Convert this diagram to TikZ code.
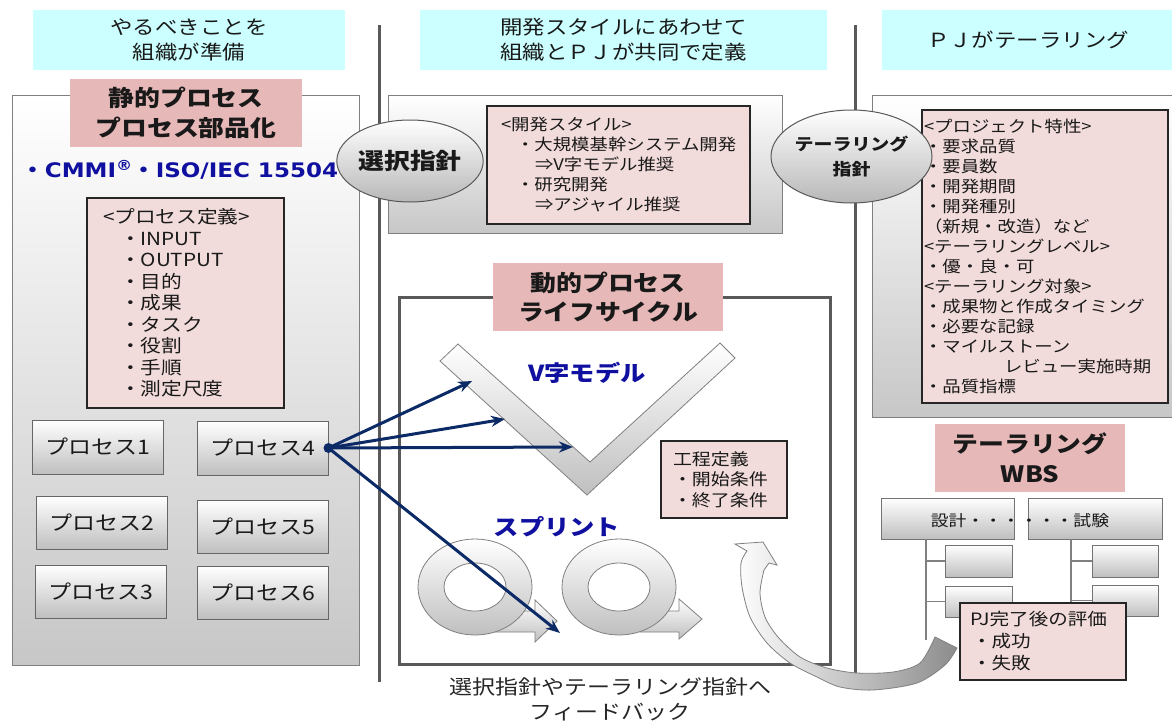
\documentclass[tikz,border=0pt]{standalone}
\usepackage{fontspec}
\setmainfont{Noto Sans CJK JP}[FakeStretch=1.15]
\newfontfamily\latinb{DejaVu Sans}[FakeStretch=1.15]
\usetikzlibrary{shapes.geometric,arrows.meta}
\definecolor{hcyan}{HTML}{CCFFFF}
\definecolor{tpink}{HTML}{E6B9B8}
\definecolor{lpink}{HTML}{F2DCDB}
\definecolor{navy}{HTML}{0C2A66}
\definecolor{tblue}{HTML}{1010A0}
\definecolor{sep}{HTML}{595959}
\newcommand\fs[2]{\fontsize{#1}{#2}\selectfont}
\newcommand\ind[1]{\hspace*{#1pt}}
\tikzset{
  wh/.style 2 args={minimum width=#1pt, minimum height=#2pt},
  hdr/.style={fill=hcyan, inner sep=0pt, align=center, font=\fs{19.5}{25}, text=black!90},
  panel/.style={draw=black!50, line width=1pt, top color=white, bottom color=black!22, inner sep=0pt},
  ttl/.style={fill=tpink, inner sep=0pt, align=center, font=\fs{22.5}{29.5}\bfseries, text=black!90},
  pnote/.style={draw=black!85, line width=1.3pt, fill=lpink, align=left, text=black!90, inner ysep=0pt},
  proc/.style={draw=black!60, line width=1pt, top color=white, bottom color=black!25, inner sep=0pt, font=\fs{20}{24}, text=black!90},
  wbs/.style={draw=black!55, line width=1pt, top color=white, bottom color=black!25, inner sep=0pt},
  oval/.style={ellipse, draw=black!65, line width=1pt, top color=white, bottom color=black!28, inner sep=0pt, align=center, text=black!90},
  sepline/.style={draw=sep, line width=3pt},
  link/.style={draw=navy, line width=3pt, -{Stealth[length=14pt,width=11pt]}},
  tree/.style={draw=black!50, line width=1.2pt},
  bluet/.style={text=tblue, font=\fs{22}{26}\bfseries, inner sep=0pt},
  deco/.style={draw=black!50, line width=0.8pt, top color=white, bottom color=black!25},
}
\begin{document}
\begin{tikzpicture}[x=1pt,y=-1pt]
\useasboundingbox (0,0) rectangle (1172,720);
% separators
\coordinate (s1a) at (379,25); \coordinate (s1b) at (379,682);
\coordinate (s2a) at (855,25); \coordinate (s2b) at (855,680);
\draw[sepline] (s1a) -- (s1b);
\draw[sepline] (s2a) -- (s2b);
% headers
\node[hdr, wh={312}{60}] (h1) at (189,40) {やるべきことを\\組織が準備};
\node[hdr, wh={407}{60}] (h2) at (623.5,40) {開発スタイルにあわせて\\組織とＰＪが共同で定義};
\node[hdr, wh={292}{60}] (h3) at (1028,40) {ＰＪがテーラリング};
% left panel
\node[panel, wh={347}{570}] (lp) at (185.5,380) {};
\node[ttl, wh={232}{68}] (lt) at (186,113) {静的プロセス\\プロセス部品化};
\node[text=tblue, inner sep=0pt, font=\fs{20}{24}\bfseries] (cmmi) at (180,170) {・{\latinb CMMI\textsuperscript{®}}・{\latinb ISO/IEC 15504}};
\node[pnote, wh={197}{210}, text width=165pt, inner xsep=16pt, font=\fs{18}{21.5}] (pd) at (185.5,303)
 {<プロセス定義>\\\ind{17}・INPUT\\\ind{17}・OUTPUT\\\ind{17}・目的\\\ind{17}・成果\\\ind{17}・タスク\\\ind{17}・役割\\\ind{17}・手順\\\ind{17}・測定尺度};
\node[proc, wh={131}{54}] (p1) at (97.5,447) {プロセス1};
\node[proc, wh={131}{54}] (p4) at (262.5,448) {プロセス4};
\node[proc, wh={131}{53}] (p2) at (101.5,522.5) {プロセス2};
\node[proc, wh={131}{53}] (p5) at (262.5,526.5) {プロセス5};
\node[proc, wh={131}{53}] (p3) at (100.5,591.5) {プロセス3};
\node[proc, wh={131}{53}] (p6) at (262.5,592.5) {プロセス6};
% middle top
\node[panel, wh={394}{138}] (mp) at (585,164) {};
\node[pnote, wh={263}{118}, text width=235pt, inner xsep=14pt, font=\fs{16}{20}] (ds) at (618.5,165)
 {<開発スタイル>\\\ind{15}・大規模基幹システム開発\\\ind{34}⇒V字モデル推奨\\\ind{15}・研究開発\\\ind{34}⇒アジャイル推奨};
\node[oval, wh={134}{82}, font=\fs{22.5}{26}\bfseries] (o1) at (410,161) {選択指針};
% right panel
\node[panel, wh={310}{322}] (rp) at (1027,256) {};
\node[pnote, wh={246}{293}, text width=242pt, inner xsep=2pt, font=\fs{16}{20}] (pc) at (1045,256.5)
 {<プロジェクト特性>\\・要求品質\\・要員数\\・開発期間\\・開発種別\\（新規・改造）など\\<テーラリングレベル>\\・優・良・可\\<テーラリング対象>\\・成果物と作成タイミング\\・必要な記録\\・マイルストーン\\\ind{80}レビュー実施時期\\・品質指標};
\node[oval, wh={133}{93}, font=\fs{16.5}{25}\bfseries] (o2) at (851.5,156.5) {テーラリング\\指針};
% dynamic process
\node[draw=sep, line width=3pt, fill=white, wh={431}{367}, inner sep=0pt] (dp) at (614.5,480.5) {};
\node[ttl, wh={230}{68}] (dt) at (608,297) {動的プロセス\\ライフサイクル};
\path[deco] (440,361) -- (458,344) -- (590,462) -- (720,343) -- (735,358) -- (587,495) -- cycle;
\node[bluet] (vm) at (587,373) {V字モデル};
\node[bluet] (sp) at (557,527) {スプリント};
\node[pnote, wh={126}{77}, text width=102pt, inner xsep=12pt, font=\fs{16.5}{20.5}] (kt) at (724,479.5) {工程定義\\・開始条件\\・終了条件};
% sprint rings
\path[deco] (495,611) -- (535,611) -- (535,600) -- (557,621) -- (535,642) -- (535,632) -- (495,632) -- cycle;
\path[deco, even odd rule] (475,587) ellipse [x radius=57pt, y radius=48pt] (475,587) ellipse [x radius=31pt, y radius=24pt];
\path[deco] (640,611) -- (679,611) -- (679,599) -- (702,619) -- (679,639) -- (679,632) -- (640,632) -- cycle;
\path[deco, even odd rule] (619,587) ellipse [x radius=57pt, y radius=48pt] (619,587) ellipse [x radius=31pt, y radius=24pt];
\node[align=center, font=\fs{20}{25}, text=black!85, inner sep=0pt] (fb) at (610,699.5) {選択指針やテーラリング指針へ\\フィードバック};
% WBS
\node[ttl, wh={190}{68}] (wt) at (1030,458) {テーラリング\\WBS};
\node[wbs, wh={133}{41}] (w1) at (947.5,518.5) {};
\node[wbs, wh={134}{41}] (w2) at (1095,518.5) {};
\node[font=\fs{15.5}{20}, text=black!90, inner sep=0pt] (wtx) at (1020,521) {設計・・・・・・試験};
\node[wbs, wh={67}{32}] (l1) at (978.5,561) {};
\node[wbs, wh={67}{31}] (l2) at (978.5,601.5) {};
\node[wbs, wh={66}{32}] (r1) at (1125,561) {};
\node[wbs, wh={66}{31}] (r2) at (1125,600.5) {};
\coordinate (la) at (926,539); \coordinate (lb) at (926,640);
\coordinate (ra) at (1071,539); \coordinate (rb) at (1071,612);
\draw[tree] (la) -- (lb);
\draw[tree] (l1.west) -- (l1.west -| la);
\draw[tree] (l2.west) -- (l2.west -| la);
\draw[tree] (ra) -- (rb);
\draw[tree] (r1.west) -- (r1.west -| ra);
\draw[tree] (r2.west) -- (r2.west -| ra);
\node[pnote, wh={166}{77}, text width=146pt, inner xsep=10pt, font=\fs{17}{22}] (pj) at (1043,641.5) {PJ完了後の評価\\\ind{2}・成功\\\ind{2}・失敗};
% feedback curved arrow
\path[draw=black!50, line width=0.8pt, left color=white, right color=black!45]
  (957,648) -- plot[smooth] coordinates {(957,648) (945,665) (917,683) (873,690) (840,687) (817,677) (790,663) (767,643) (750,617) (742,587) (741,563) (747,551)}
  -- (735,544) -- (763,542) -- (777,565) -- (769,563)
  -- plot[smooth] coordinates {(764,570) (760,593) (765,617) (778,637) (800,657) (827,668) (857,673) (893,672) (920,663) (935,637)}
  -- cycle;
% links from process 4
\coordinate (t1) at (472,381);
\coordinate (t2) at (505,419);
\coordinate (t3) at (573,447);
\coordinate (t4) at (560,633);
\draw[link] (p4.east) -- (t1);
\draw[link] (p4.east) -- (t2);
\draw[link] (p4.east) -- (t3);
\draw[link] (p4.east) -- (t4);
\fill[navy] (p4.east) circle[radius=5pt];
\end{tikzpicture}
\end{document}
